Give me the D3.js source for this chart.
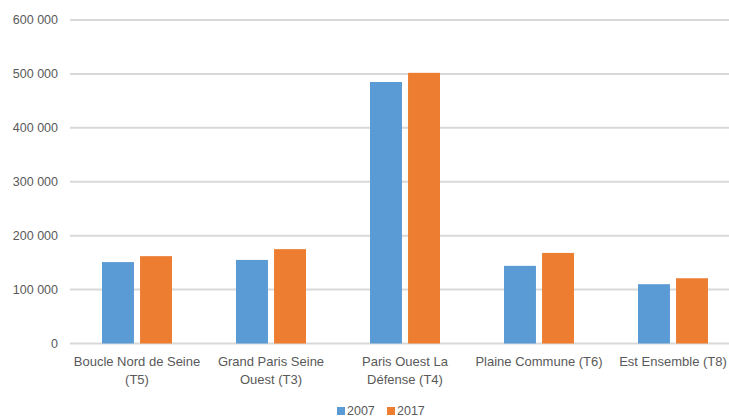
<!DOCTYPE html>
<html>
<head>
<meta charset="utf-8">
<script src="https://cdn.jsdelivr.net/npm/d3@7"></script>
<style>
  html, body { margin: 0; padding: 0; background: #fff; }
  svg { display: block; }
  text { font-family: "Liberation Sans", Arial, sans-serif; fill: #595959; }
</style>
</head>
<body>
<svg id="chart" width="729" height="418"></svg>
<script>
// Territories (label lines as wrapped on the axis)
const categories = [
  ["Boucle Nord de Seine", "(T5)"],
  ["Grand Paris Seine", "Ouest (T3)"],
  ["Paris Ouest La", "Défense (T4)"],
  ["Plaine Commune (T6)"],
  ["Est Ensemble (T8)"]
];
const seriesNames = ["2007", "2017"];
const values2007 = [151000, 155000, 485000, 144000, 110000];
const values2017 = [162000, 175000, 502000, 168000, 121000];
const yTicks = [0, 100000, 200000, 300000, 400000, 500000, 600000];
const colors = ["#5b9bd5", "#ed7d31"];

const svg = d3.select("#chart");
const margin = { left: 70, top: 20 };
const plotRight = 740;
const y0 = 343.5;

const x = d3.scaleBand()
  .domain(d3.range(categories.length))
  .range([margin.left, plotRight])
  .paddingInner(0)
  .paddingOuter(0);

const y = d3.scaleLinear().domain([0, 600000]).range([y0, margin.top]);

const fmt = v => d3.format(",")(v).replace(/,/g, " ");

// Gridlines
svg.append("g")
  .selectAll("line")
  .data(yTicks)
  .join("line")
  .attr("x1", margin.left)
  .attr("x2", 729)
  .attr("y1", d => y(d))
  .attr("y2", d => y(d))
  .attr("stroke", "#d9d9d9")
  .attr("stroke-width", 2);

// Y axis labels
svg.append("g")
  .selectAll("text")
  .data(yTicks)
  .join("text")
  .attr("x", 58)
  .attr("y", d => y(d))
  .attr("dy", "0.35em")
  .attr("text-anchor", "end")
  .attr("font-size", 12.5)
  .text(d => fmt(d));

// Bars: two series side by side, centred in each band
const groupHalf = 35;
const inner = d3.scaleBand()
  .domain([0, 1])
  .range([x.bandwidth() / 2 - groupHalf, x.bandwidth() / 2 + groupHalf])
  .paddingInner(0.16)
  .paddingOuter(0);

const series = [values2007, values2017];
series.forEach((vals, si) => {
  svg.append("g")
    .selectAll("rect")
    .data(vals)
    .join("rect")
    .attr("x", (d, i) => x(i) + inner(si))
    .attr("width", inner.bandwidth())
    .attr("y", d => y(d))
    .attr("height", d => y0 - y(d))
    .attr("fill", colors[si]);
});

// Category labels
const lab = svg.append("g")
  .selectAll("text")
  .data(categories)
  .join("text")
  .attr("text-anchor", "middle")
  .attr("font-size", 13)
  .attr("x", (d, i) => x(i) + x.bandwidth() / 2)
  .attr("y", 366);
lab.selectAll("tspan")
  .data(d => d)
  .join("tspan")
  .attr("x", function () { return d3.select(this.parentNode).attr("x"); })
  .attr("dy", (d, i) => i === 0 ? 0 : 18)
  .text(d => d);

// Legend
const legend = svg.append("g");
const legendX = [337, 387];
seriesNames.forEach((name, i) => {
  legend.append("rect")
    .attr("x", legendX[i])
    .attr("y", 407)
    .attr("width", 8)
    .attr("height", 8)
    .attr("fill", colors[i]);
  legend.append("text")
    .attr("x", legendX[i] + 10)
    .attr("y", 411)
    .attr("dy", "0.35em")
    .attr("font-size", 12.5)
    .text(name);
});
</script>
</body>
</html>
